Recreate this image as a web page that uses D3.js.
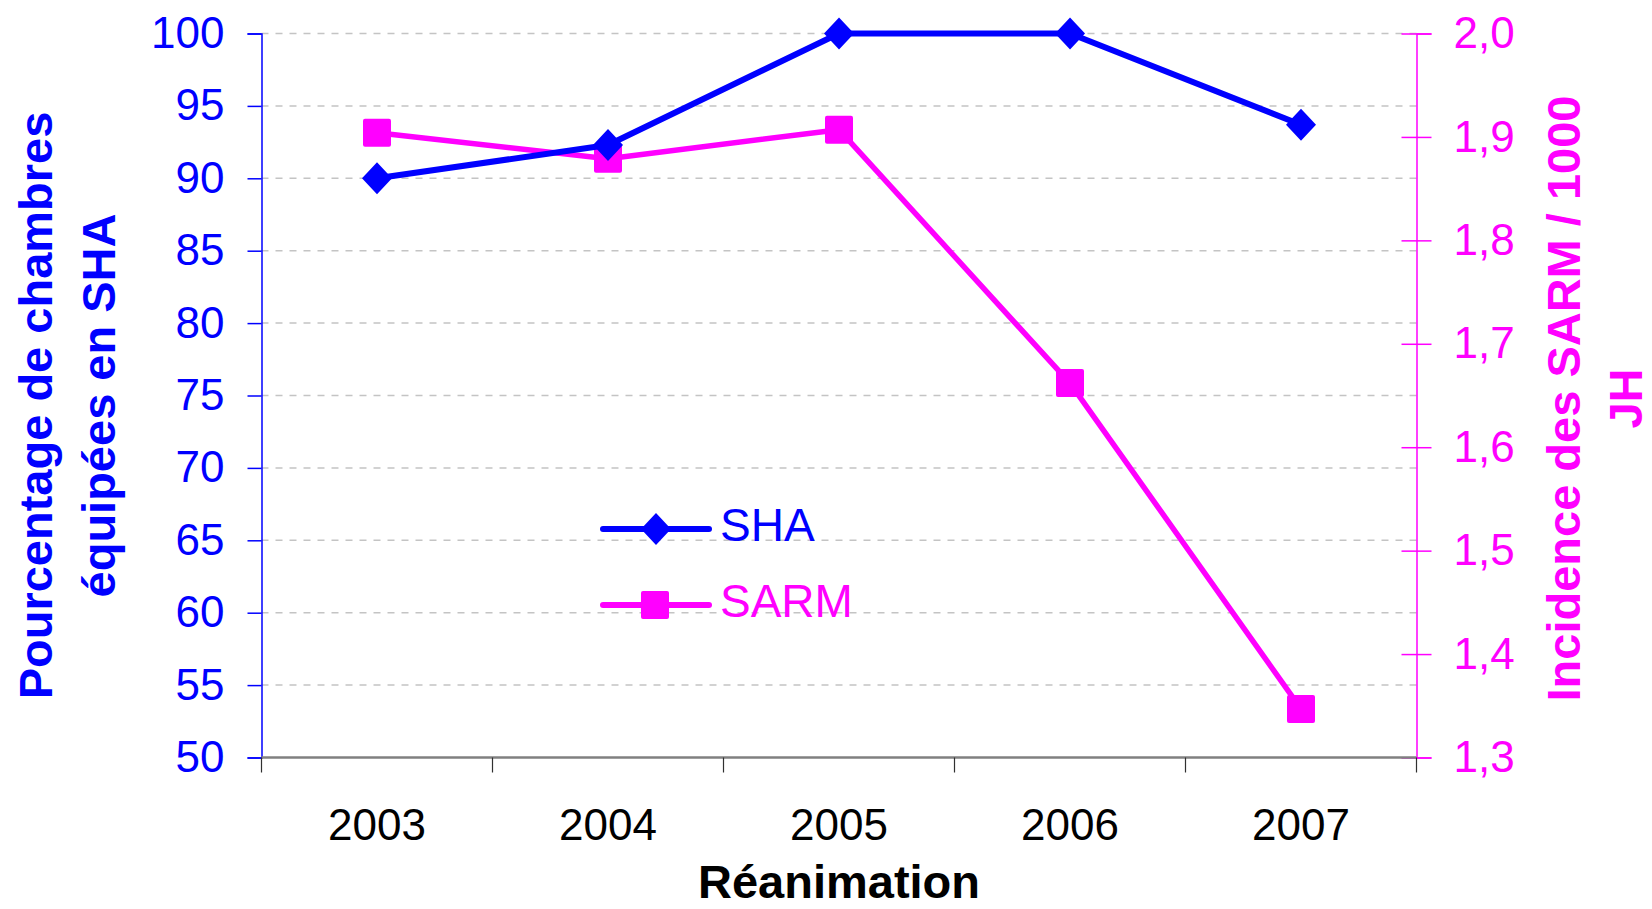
<!DOCTYPE html>
<html>
<head>
<meta charset="utf-8">
<script src="https://cdn.jsdelivr.net/npm/d3@7"></script>
<style>
  body { margin: 0; background: #fff; }
  svg { display: block; font-family: "Liberation Sans", Arial, sans-serif; }
</style>
</head>
<body>
<div id="chart"></div>
<script>
/** Data. */
const years = ["2003", "2004", "2005", "2006", "2007"];
const sha = [90, 92.3, 100, 100, 93.7];
const sarm = [1.904, 1.879, 1.907, 1.662, 1.347];
const leftTicks = [50, 55, 60, 65, 70, 75, 80, 85, 90, 95, 100];
const rightTicks = [1.3, 1.4, 1.5, 1.6, 1.7, 1.8, 1.9, 2.0];

const W = 1652, H = 909;
const LEFT = 261.5, RIGHT = 1416.5, TOP = 33.5, BOTTOM = 757.5;

const BLUE = "#0000ff";
const PINK = "#ff00ff";

const fr = d3.formatLocale({decimal: ",", thousands: " ", grouping: [3], currency: ["", "€"]});

const svg = d3.select("#chart").append("svg")
    .attr("width", W)
    .attr("height", H);

const x = d3.scaleBand().domain(years).range([LEFT, RIGHT]);
const yL = d3.scaleLinear().domain([50, 100]).range([BOTTOM, TOP]);
const yR = d3.scaleLinear().domain([1.3, 2.0]).range([BOTTOM, TOP]);
const cx = (d) => x(d) + x.bandwidth() / 2;

// Dashed grid lines on the left scale
svg.append("g")
    .selectAll("line")
    .data(leftTicks.filter(t => t > 50))
    .enter()
    .append("line")
    .attr("x1", LEFT)
    .attr("x2", RIGHT)
    .attr("y1", d => yL(d))
    .attr("y2", d => yL(d))
    .attr("stroke", "#c4c4c4")
    .attr("stroke-width", 1.5)
    .attr("stroke-dasharray", "7,7");

// Left axis
const gL = svg.append("g")
    .attr("transform", `translate(${LEFT},0)`)
    .call(d3.axisLeft(yL).tickValues(leftTicks).tickSize(14).tickPadding(23).tickFormat(d3.format("d")));
gL.select(".domain").attr("stroke", BLUE).attr("stroke-width", 1.5);
gL.selectAll(".tick line").attr("stroke", BLUE).attr("stroke-width", 1.5);
gL.selectAll(".tick text").attr("fill", BLUE).attr("font-size", 44);

// Right axis, ticks cross the line
const gR = svg.append("g")
    .attr("transform", `translate(${RIGHT},0)`)
    .call(d3.axisRight(yR).tickValues(rightTicks).tickSize(15).tickPadding(22).tickFormat(fr.format(".1f")));
gR.select(".domain").attr("stroke", PINK).attr("stroke-width", 1.5);
gR.selectAll(".tick line").attr("x1", -15).attr("stroke", PINK).attr("stroke-width", 1.5);
gR.selectAll(".tick text").attr("fill", PINK).attr("font-size", 44);

// Bottom axis: labels in the middle, ticks between categories
const gX = svg.append("g")
    .attr("transform", `translate(0,${BOTTOM})`)
    .call(d3.axisBottom(x).tickSize(0).tickPadding(51));
gX.select(".domain").remove();
gX.selectAll(".tick text").attr("fill", "#000").attr("font-size", 44);

svg.append("line")
    .attr("x1", LEFT).attr("x2", RIGHT)
    .attr("y1", BOTTOM).attr("y2", BOTTOM)
    .attr("stroke", "#808080")
    .attr("stroke-width", 2.5);

svg.append("g")
    .selectAll("line")
    .data(years.map(d => x(d)).concat([RIGHT]))
    .enter()
    .append("line")
    .attr("x1", d => d).attr("x2", d => d)
    .attr("y1", BOTTOM).attr("y2", BOTTOM + 15)
    .attr("stroke", "#303030")
    .attr("stroke-width", 1.2);

// Axis titles
const leftTitle = svg.append("text")
    .attr("transform", `translate(52,${(TOP + BOTTOM) / 2 + 10}) rotate(-90)`)
    .attr("text-anchor", "middle")
    .attr("font-size", 47)
    .attr("font-weight", "bold")
    .attr("fill", BLUE);
leftTitle.append("tspan").attr("x", 0).attr("y", 0).text("Pourcentage de chambres");
leftTitle.append("tspan").attr("x", 0).attr("y", 63).text("équipées en SHA");

const rightTitle = svg.append("text")
    .attr("transform", `translate(1580,${(TOP + BOTTOM) / 2 + 3}) rotate(-90)`)
    .attr("text-anchor", "middle")
    .attr("font-size", 47)
    .attr("font-weight", "bold")
    .attr("fill", PINK);
rightTitle.append("tspan").attr("x", 0).attr("y", 0).text("Incidence des SARM / 1000");
rightTitle.append("tspan").attr("x", 0).attr("y", 62).text("JH");

svg.append("text")
    .attr("x", (LEFT + RIGHT) / 2)
    .attr("y", 898)
    .attr("text-anchor", "middle")
    .attr("font-size", 47)
    .attr("font-weight", "bold")
    .attr("fill", "#000")
    .text("Réanimation");

// Markers
const diamond = "M0,-16L15,0L0,16L-15,0Z";
const drawSquare = (g, px, py) => g.append("rect")
    .attr("x", px - 14).attr("y", py - 14)
    .attr("width", 28).attr("height", 28)
    .attr("rx", 2)
    .attr("fill", PINK);

// SARM series
const lineR = d3.line().x((d, i) => cx(years[i])).y(d => yR(d));
svg.append("path")
    .datum(sarm)
    .attr("d", lineR)
    .attr("fill", "none")
    .attr("stroke", PINK)
    .attr("stroke-width", 5.5)
    .attr("stroke-linejoin", "round");

const gSarm = svg.append("g");
sarm.forEach((v, i) => drawSquare(gSarm, cx(years[i]), yR(v)));

// SHA series
const lineL = d3.line().x((d, i) => cx(years[i])).y(d => yL(d));
svg.append("path")
    .datum(sha)
    .attr("d", lineL)
    .attr("fill", "none")
    .attr("stroke", BLUE)
    .attr("stroke-width", 6)
    .attr("stroke-linejoin", "round");

svg.append("g")
    .selectAll("path")
    .data(sha)
    .enter()
    .append("path")
    .attr("d", diamond)
    .attr("transform", (d, i) => `translate(${cx(years[i])},${yL(d)})`)
    .attr("fill", BLUE);

// Legend
const legend = [
    {name: "SHA", color: BLUE, y: 529, marker: "diamond"},
    {name: "SARM", color: PINK, y: 605, marker: "square"}
];
const gLeg = svg.append("g");
legend.forEach(l => {
    gLeg.append("line")
        .attr("x1", 603).attr("x2", 709)
        .attr("y1", l.y).attr("y2", l.y)
        .attr("stroke", l.color)
        .attr("stroke-width", 6)
        .attr("stroke-linecap", "round");
    if (l.marker === "diamond") {
        gLeg.append("path")
            .attr("d", diamond)
            .attr("transform", `translate(656,${l.y})`)
            .attr("fill", l.color);
    } else {
        drawSquare(gLeg, 655, l.y);
    }
    gLeg.append("text")
        .attr("x", 720)
        .attr("y", l.y + 12)
        .attr("font-size", 46)
        .attr("fill", l.color)
        .text(l.name);
});
</script>
</body>
</html>
